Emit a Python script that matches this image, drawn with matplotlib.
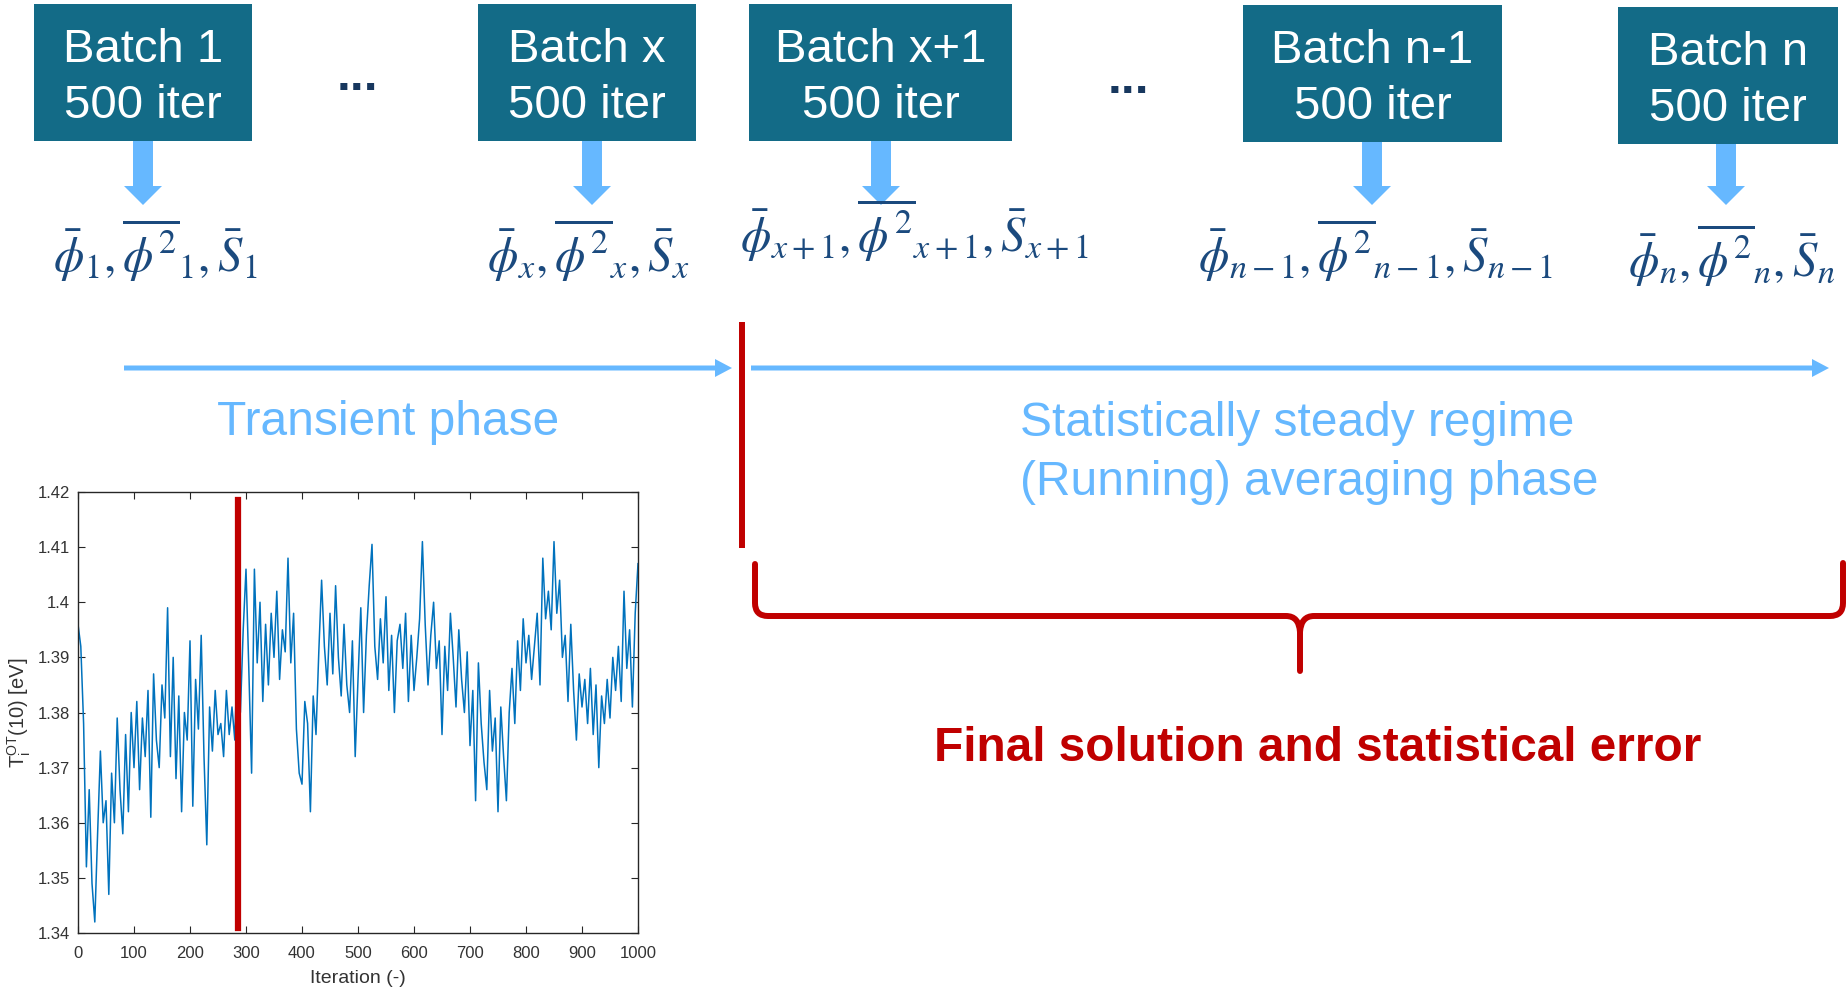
import numpy as np
import matplotlib.pyplot as plt
from matplotlib.patches import Rectangle, FancyArrow, PathPatch
from matplotlib.path import Path

# ---- data ----
iters = list(range(0, 1001, 5))
temp_ot = [
    1.396, 1.392, 1.378, 1.352, 1.366, 1.349, 1.342, 1.358, 1.373, 1.360,   # 0-45
    1.364, 1.347, 1.369, 1.360, 1.379, 1.366, 1.358, 1.376, 1.362, 1.380,   # 50-95
    1.370, 1.382, 1.366, 1.379, 1.372, 1.384, 1.361, 1.387, 1.375, 1.370,   # 100-145
    1.385, 1.379, 1.399, 1.372, 1.390, 1.368, 1.383, 1.362, 1.380, 1.375,   # 150-195
    1.393, 1.363, 1.386, 1.377, 1.394, 1.372, 1.356, 1.381, 1.373, 1.384,   # 200-245
    1.376, 1.378, 1.372, 1.384, 1.376, 1.381, 1.375, 1.393, 1.380, 1.395,   # 250-295
    1.406, 1.388, 1.369, 1.406, 1.389, 1.400, 1.382, 1.396, 1.385, 1.398,   # 300-345
    1.390, 1.402, 1.386, 1.395, 1.391, 1.408, 1.389, 1.398, 1.377, 1.369,   # 350-395
    1.367, 1.382, 1.378, 1.362, 1.383, 1.376, 1.391, 1.404, 1.392, 1.385,   # 400-445
    1.398, 1.387, 1.403, 1.390, 1.383, 1.396, 1.385, 1.380, 1.393, 1.372,   # 450-495
    1.386, 1.399, 1.380, 1.394, 1.403, 1.4105, 1.392, 1.386, 1.397, 1.389,  # 500-545
    1.401, 1.384, 1.394, 1.380, 1.393, 1.396, 1.388, 1.398, 1.382, 1.394,   # 550-595
    1.384, 1.390, 1.397, 1.411, 1.396, 1.385, 1.394, 1.400, 1.388, 1.393,   # 600-645
    1.376, 1.392, 1.384, 1.398, 1.390, 1.381, 1.395, 1.386, 1.380, 1.391,   # 650-695
    1.374, 1.384, 1.364, 1.389, 1.378, 1.371, 1.366, 1.384, 1.373, 1.379,   # 700-745
    1.362, 1.381, 1.372, 1.364, 1.380, 1.388, 1.378, 1.393, 1.384, 1.397,   # 750-795
    1.389, 1.394, 1.386, 1.392, 1.398, 1.385, 1.408, 1.397, 1.402, 1.395,   # 800-845
    1.411, 1.398, 1.404, 1.390, 1.394, 1.382, 1.396, 1.384, 1.375, 1.387,   # 850-895
    1.381, 1.386, 1.378, 1.388, 1.376, 1.385, 1.370, 1.383, 1.378, 1.386,   # 900-945
    1.379, 1.390, 1.384, 1.392, 1.382, 1.402, 1.388, 1.395, 1.381, 1.398,   # 950-995
    1.407,
]
transient_end = 285

batch_names = ['Batch 1', 'Batch x', 'Batch x+1', 'Batch n-1', 'Batch n']
batch_iter = ['500 iter'] * 5
batch_stats = [
    r'$\bar{\phi}_1,\overline{\phi^2}_1,\bar{S}_1$',
    r'$\bar{\phi}_x,\overline{\phi^2}_x,\bar{S}_x$',
    r'$\bar{\phi}_{x+1},\overline{\phi^2}_{x+1},\bar{S}_{x+1}$',
    r'$\bar{\phi}_{n-1},\overline{\phi^2}_{n-1},\bar{S}_{n-1}$',
    r'$\bar{\phi}_n,\overline{\phi^2}_n,\bar{S}_n$',
]

# ---- layout (pixels, figure is 1849x990) ----
box_l = [34, 478, 749, 1243, 1618]
box_r = [252, 696, 1012, 1502, 1838]
box_t = [4, 4, 4, 5, 7]
box_b = [141, 141, 141, 142, 144]
arrow_x = [143, 592, 881, 1372, 1726]
stat_x = [155, 588, 915, 1376, 1732]
stat_y = [272, 272, 252, 272, 277]

TEAL = '#136B87'
LBLUE = '#66B8FF'
RED = '#C00000'
NAVY = '#1B4A7E'

plt.rcParams['font.family'] = ['Liberation Sans', 'DejaVu Sans']

fig = plt.figure(figsize=(18.49, 9.9), dpi=100)
ov = fig.add_axes([0, 0, 1, 1])
ov.set_xlim(0, 1849)
ov.set_ylim(990, 0)
ov.axis('off')

# batches
for i in range(5):
    ov.add_patch(Rectangle((box_l[i], box_t[i]), box_r[i] - box_l[i], box_b[i] - box_t[i],
                           facecolor=TEAL, edgecolor='none'))
    cx = (box_l[i] + box_r[i]) / 2
    ov.text(cx, box_t[i] + 58, batch_names[i], color='white', fontsize=34,
            ha='center', va='baseline')
    ov.text(cx, box_t[i] + 114, batch_iter[i], color='white', fontsize=34,
            ha='center', va='baseline')
    ov.add_patch(FancyArrow(arrow_x[i], box_b[i], 0, 205 - box_b[i], width=20,
                            head_width=38, head_length=19, length_includes_head=True,
                            color=LBLUE, lw=0))
    ov.text(stat_x[i], stat_y[i], batch_stats[i], color=NAVY, fontsize=35,
            ha='center', va='baseline', math_fontfamily='stix')

ov.text(357, 90, '...', color='#17375E', fontsize=36, fontweight='bold', ha='center', va='baseline')
ov.text(1128, 93, '...', color='#17375E', fontsize=36, fontweight='bold', ha='center', va='baseline')

# timeline arrows + separator
ov.add_patch(FancyArrow(124, 368, 732 - 124, 0, width=5, head_width=18, head_length=17,
                        length_includes_head=True, color=LBLUE, lw=0))
ov.add_patch(FancyArrow(751, 368, 1829 - 751, 0, width=5, head_width=18, head_length=17,
                        length_includes_head=True, color=LBLUE, lw=0))
ov.plot([742, 742], [322, 548], color=RED, lw=4.3, solid_capstyle='butt')

ov.text(217, 435, 'Transient phase', color=LBLUE, fontsize=34.5, ha='left', va='baseline')
ov.text(1020, 436, 'Statistically steady regime', color=LBLUE, fontsize=34.5, ha='left', va='baseline')
ov.text(1020, 495, '(Running) averaging phase', color=LBLUE, fontsize=34.5, ha='left', va='baseline')

# brace
verts = [(755, 564), (755, 603), (755, 616), (768, 616), (1286, 616), (1299, 616), (1300, 632),
         (1300, 671),
         (1300, 632), (1301, 616), (1314, 616), (1830, 616), (1843, 616), (1843, 603), (1843, 563)]
codes = [Path.MOVETO, Path.LINETO, Path.CURVE3, Path.CURVE3, Path.LINETO, Path.CURVE3, Path.CURVE3,
         Path.LINETO,
         Path.MOVETO, Path.CURVE3, Path.CURVE3, Path.LINETO, Path.CURVE3, Path.CURVE3, Path.LINETO]
ov.add_patch(PathPatch(Path(verts, codes), facecolor='none', edgecolor=RED, lw=4.3,
                       capstyle='round', joinstyle='round'))
ov.text(934, 761, 'Final solution and statistical error', color=RED, fontsize=34.4,
        fontweight='bold', ha='left', va='baseline')

# small convergence plot
ax = fig.add_axes([78 / 1849, 57 / 990, 560 / 1849, 441 / 990])
ax.plot(iters, temp_ot, color='#0072BD', lw=1.1)
ax.axvline(transient_end, ymin=0.011, ymax=0.982, color=RED, lw=4.5)
ax.set_xlim(0, 1000)
ax.set_ylim(1.34, 1.42)
ax.set_xticks(range(0, 1001, 100))
ax.set_yticks([1.34, 1.35, 1.36, 1.37, 1.38, 1.39, 1.40, 1.41, 1.42])
ax.set_yticklabels(['1.34', '1.35', '1.36', '1.37', '1.38', '1.39', '1.4', '1.41', '1.42'])
ax.tick_params(direction='in', top=True, right=True, length=5, labelsize=12,
               colors='#262626', labelcolor='#333333')
ax.tick_params(axis='x', pad=9)
ax.tick_params(axis='y', pad=6)
for s in ax.spines.values():
    s.set_color('#262626')
    s.set_linewidth(1.0)
ax.set_xlabel('Iteration (-)', fontsize=14, color='#333333', labelpad=7)
ax.set_ylabel(r'T$_\mathregular{i}^\mathregular{OT}$(10) [eV]', fontsize=14.5, color='#333333',
              labelpad=3)

fig.savefig('out.png', dpi=100)
